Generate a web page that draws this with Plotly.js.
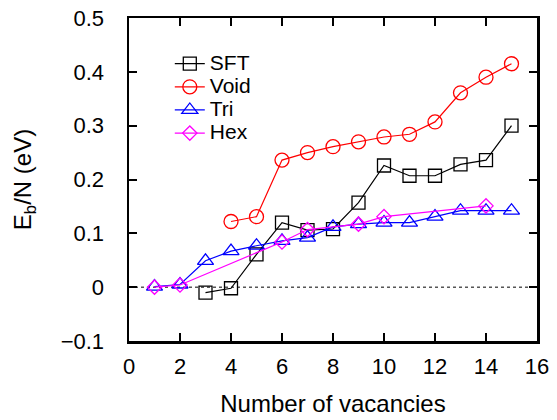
<!DOCTYPE html>
<html>
<head>
<meta charset="utf-8">
<script src="https://cdn.plot.ly/plotly-3.0.1.min.js"></script>
<style>html,body{margin:0;padding:0;background:#fff}#chart{width:557px;height:420px}</style>
</head>
<body>
<div id="chart"></div>
<script>
const sftX = [3, 4, 5, 6, 7, 8, 9, 10, 11, 12, 13, 14, 15];
const sftY = [-0.010, -0.002, 0.061, 0.120, 0.106, 0.108, 0.157, 0.226, 0.207, 0.207, 0.228, 0.236, 0.300];
const voidX = [4, 5, 6, 7, 8, 9, 10, 11, 12, 13, 14, 15];
const voidY = [0.122, 0.131, 0.236, 0.250, 0.261, 0.270, 0.279, 0.284, 0.307, 0.361, 0.390, 0.415];
const triX = [1, 2, 3, 4, 5, 6, 7, 8, 9, 10, 11, 12, 13, 14, 15];
const triY = [0.001, 0.005, 0.049, 0.067, 0.077, 0.086, 0.092, 0.112, 0.117, 0.120, 0.120, 0.131, 0.142, 0.142, 0.142];
const hexX = [1, 2, 6, 7, 9, 10, 14];
const hexY = [0.000, 0.004, 0.084, 0.107, 0.117, 0.131, 0.151];
const seriesNames = ['SFT', 'Void', 'Tri', 'Hex'];
const xTicks = [0, 2, 4, 6, 8, 10, 12, 14, 16];
const yTicks = [-0.1, 0, 0.1, 0.2, 0.3, 0.4, 0.5];
const yTickText = ['\u22120.1', '0', '0.1', '0.2', '0.3', '0.4', '0.5'];

function tr(name, x, y, color, symbol, size) {
  return {
    type: 'scatter', mode: 'lines+markers',
    name: '<span style="font-size:21px">' + name + '</span>', x: x, y: y,
    line: {color: color, width: 1.2},
    marker: {symbol: symbol, size: size, color: color, line: {color: color, width: 1.3}}
  };
}
const data = [
  tr(seriesNames[0], sftX, sftY, '#000000', 'square-open', 13),
  tr(seriesNames[1], voidX, voidY, '#ff0000', 'circle-open', 14),
  tr(seriesNames[2], triX, triY, '#0000ff', 'triangle-up-open', 14),
  tr(seriesNames[3], hexX, hexY, '#ff00ff', 'diamond-open', 11)
];
const font = {family: '"Liberation Sans", Arial, Helvetica, sans-serif', color: '#000'};
const layout = {
  width: 557, height: 420,
  margin: {l: 129, r: 20, t: 18, b: 79},
  paper_bgcolor: '#fff', plot_bgcolor: '#fff',
  font: Object.assign({size: 22}, font),
  showlegend: true,
  legend: {x: 0.1, y: 0.91, xanchor: 'left', yanchor: 'top', bgcolor: 'rgba(0,0,0,0)',
           borderwidth: 0, font: Object.assign({size: 15.5}, font), itemwidth: 30},
  xaxis: {
    range: [0, 16], tickmode: 'array', tickvals: xTicks, ticktext: xTicks.map(String),
    ticks: 'inside', ticklen: 8, tickwidth: 2, tickcolor: '#000',
    showline: true, linecolor: '#000', linewidth: 2.5, mirror: 'ticks',
    showgrid: false, zeroline: false,
    tickfont: Object.assign({size: 22}, font), ticklabelstandoff: 4,
    title: {text: 'Number of vacancies', font: Object.assign({size: 24}, font), standoff: 18}
  },
  yaxis: {
    range: [-0.1, 0.5], tickmode: 'array', tickvals: yTicks, ticktext: yTickText,
    ticks: 'inside', ticklen: 8, tickwidth: 2, tickcolor: '#000',
    showline: true, linecolor: '#000', linewidth: 2.5, mirror: 'ticks',
    showgrid: false, zeroline: false,
    tickfont: Object.assign({size: 22}, font), ticklabelstandoff: 18,
    title: {text: 'E<sub>b</sub>/N (eV)', font: Object.assign({size: 24}, font), standoff: 23}
  },
  shapes: [{type: 'line', xref: 'paper', yref: 'y', x0: 0, x1: 1, y0: 0, y1: 0,
            line: {color: '#000', width: 1, dash: 'dot'}, layer: 'below'}]
};
Plotly.newPlot('chart', data, layout, {staticPlot: true, displayModeBar: false});
</script>
</body>
</html>
